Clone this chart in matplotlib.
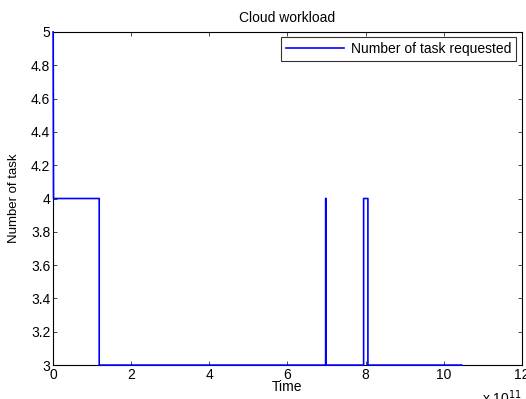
import matplotlib
matplotlib.use('Agg')
import matplotlib.pyplot as plt

plt.rcParams['font.family'] = ['Liberation Sans', 'DejaVu Sans']
plt.rcParams['font.size'] = 10

# time in units of 1e11, task counts
time = [0.0, 0.01, 1.18, 1.18, 6.98, 6.98, 6.98, 7.95, 7.95, 8.06, 8.06, 10.46]
tasks = [5, 4, 4, 3, 3, 4, 3, 3, 4, 4, 3, 3]

fig = plt.figure(figsize=(5.26, 3.99), dpi=100)
ax = fig.add_axes([0.101, 0.085, 0.891, 0.835])
# drawn above the spines so the start at x=0 shows over the left axis
ax.plot(time, tasks, color='#0000ff', linewidth=1.2, label='Number of task requested',
        zorder=3, clip_on=False)

ax.set_xlim(0, 12)
ax.set_ylim(3, 5)
ax.set_xticks([0, 2, 4, 6, 8, 10, 12])
ax.set_yticks([3, 3.2, 3.4, 3.6, 3.8, 4, 4.2, 4.4, 4.6, 4.8, 5])
ax.set_yticklabels(['3', '3.2', '3.4', '3.6', '3.8', '4', '4.2', '4.4', '4.6', '4.8', '5'])
ax.tick_params(direction='in', top=True, right=True, length=3, width=0.5, pad=2,
               labelsize=10)
for s in ax.spines.values():
    s.set_linewidth(0.8)

ax.set_title('Cloud workload', fontsize=10, pad=7)
ax.set_xlabel('Time', labelpad=-1, fontsize=10)
ax.set_ylabel('Number of task', labelpad=8, fontsize=9.5)
ax.text(1.0, -0.07, r'x 10$^{11}$', transform=ax.transAxes, ha='right', va='top', fontsize=10)

leg = ax.legend(loc='upper right', fontsize=10, frameon=True, fancybox=False,
                edgecolor='black', handlelength=4.2, handletextpad=0.5,
                borderaxespad=0.4, borderpad=0.35)
leg.get_frame().set_linewidth(0.8)
leg.set_zorder(5)

fig.savefig('out.png', dpi=100)
